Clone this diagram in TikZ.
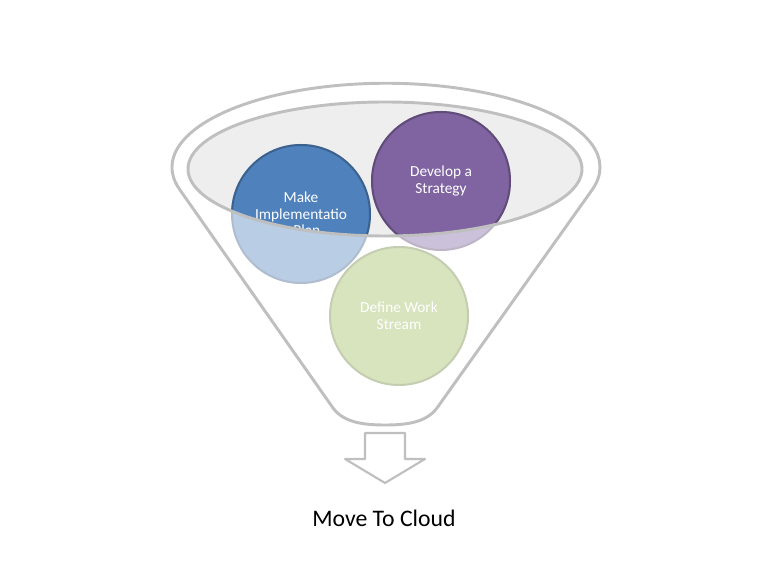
\documentclass[tikz,border=0pt]{standalone}
\usepackage{fontspec}
\setmainfont{Carlito}
\usepackage{tikz}
\usetikzlibrary{positioning}
\definecolor{planblue}{HTML}{4F81BD}
\definecolor{strategypurple}{HTML}{8064A2}
\definecolor{streamgreen}{HTML}{9BBB59}
\definecolor{funnelgray}{HTML}{BFBFBF}
\definecolor{rimfill}{HTML}{EEEEEE}

\begin{document}
\begin{tikzpicture}[x=0.75pt, y=0.75pt, line join=round,
  rim/.style={draw=funnelgray, line width=2.2pt},
  stagelight/.style={circle, minimum size=103.5pt, inner sep=0pt, line width=1.5pt, draw=#1!70!black!40, fill=#1!40},
  stagefull/.style={fill=#1, draw=#1!75!black, line width=1.5pt},
  stagetext/.style={text=white, align=center, font=\fontsize{11.5}{12.5}\selectfont}]
  \useasboundingbox (0,0) rectangle (770,570);
  \draw[rim, fill=white] (180,380) arc[start angle=195.7, end angle=-15.7, x radius=214, y radius=84] -- (437,162) .. controls (426,147) and (405,145) .. (385,145) .. controls (365,145) and (344,147) .. (333,162) -- cycle;
  \fill[rimfill] (385,401) ellipse[x radius=197, y radius=67];
  \node[stagelight=planblue] (plan) at (301,356) {};
  \node[stagelight=strategypurple] (strategy) at (441,389) {};
  \node[stagelight=streamgreen] (stream) at (399,254) {};
  % the part of each circle inside the rim is in full colour
  \begin{scope}
    \clip (385,401) ellipse[x radius=197, y radius=67];
    \draw[stagefull=planblue] (plan.center) circle[radius=69];
    \draw[stagefull=strategypurple] (strategy.center) circle[radius=69];
    \node[stagetext] (plantext) at (plan) {Make\\Implementatio\\n Plan};
  \end{scope}
  \draw[rim] (385,401) ellipse[x radius=197, y radius=67];
  \node[stagetext] (strategytext) at (strategy) {Develop a\\Strategy};
  \node[stagetext] (streamtext) at (stream) {Define Work\\Stream};
  \draw[rim, line width=1.6pt, fill=white] (365,137) -- (405,137) -- (405,111) -- (425,111) -- (385,87) -- (345,111) -- (365,111) -- cycle;
  \node[font=\fontsize{17.8}{20}\selectfont, anchor=base] (goal) at (384,43) {Move To Cloud};
\end{tikzpicture}
\end{document}
